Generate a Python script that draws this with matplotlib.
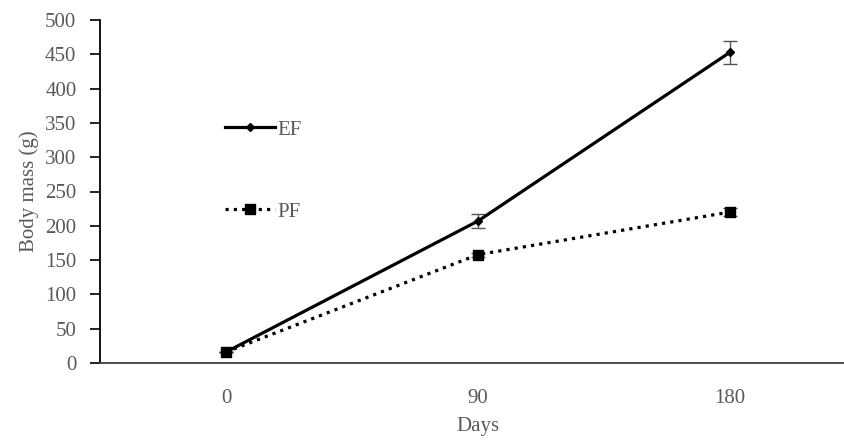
import numpy as np
import matplotlib.pyplot as plt

plt.rcParams['font.family'] = ['Liberation Serif', 'DejaVu Serif']

# data
days = ['0', '90', '180']
ef_mass = [16, 207, 453]
ef_err = [0, 10, 17]
pf_mass = [16, 158, 220]
pf_err = [0, 3, 6]

grey = '#595959'
fs = 15

fig = plt.figure(figsize=(8.45, 4.43), dpi=100)
ax = fig.add_axes([100 / 845, 80 / 443, 756 / 845, 343 / 443])

x = np.arange(len(days))

# error bars first, then the lines (so legend handles have no bars)
ax.errorbar(x, ef_mass, yerr=ef_err, fmt='none', ecolor='#555555',
            elinewidth=1, capsize=5, capthick=1, zorder=2)
ax.errorbar(x, pf_mass, yerr=pf_err, fmt='none', ecolor='#555555',
            elinewidth=1, capsize=5, capthick=1, zorder=2)
ax.plot(x, ef_mass, color='black', lw=2.3, marker='D', ms=4, label='EF', zorder=3)
ax.plot(x, pf_mass, color='black', lw=2.3, ls=(0, (1, 1.6)), marker='s', ms=6.5,
        label='PF', zorder=3)

ax.set_xlim(-0.5, 2.5)
ax.set_ylim(0, 500)
ax.set_yticks(np.arange(0, 501, 50))
ax.set_xticks(x)
ax.set_xticklabels(days)

ax.spines['top'].set_visible(False)
ax.spines['right'].set_visible(False)
ax.spines['left'].set_color('black')
ax.spines['bottom'].set_color('#404040')
ax.spines['left'].set_linewidth(1.3)
ax.spines['bottom'].set_linewidth(1.3)

ax.tick_params(axis='y', direction='out', length=7, width=1.2, colors='black',
               labelcolor=grey, labelsize=fs, pad=10)
ax.tick_params(axis='x', length=0, labelcolor=grey, labelsize=fs, pad=19)

ax.set_ylabel('Body mass (g)', color=grey, fontsize=fs, labelpad=4)
ax.set_xlabel('Days', color=grey, fontsize=fs, labelpad=6)

leg = ax.legend(loc='upper left', bbox_to_anchor=(0.141, 0.763), frameon=False,
                handlelength=2.4, handletextpad=0.1, labelspacing=3.0, fontsize=fs)
for t in leg.get_texts():
    t.set_color(grey)

fig.savefig('out.png', dpi=100)
